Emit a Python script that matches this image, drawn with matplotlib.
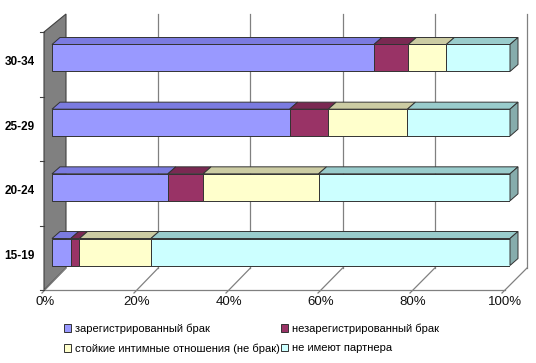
import matplotlib
matplotlib.use('Agg')
import matplotlib.pyplot as plt
from matplotlib.patches import Polygon, Patch

plt.rcParams['font.family'] = ['Liberation Sans', 'DejaVu Sans']

ages = ['15-19', '20-24', '25-29', '30-34']
registered = [4.1, 25.3, 51.9, 70.3]
unregistered = [1.9, 7.7, 8.4, 7.5]
stable = [15.6, 25.2, 17.3, 8.3]
no_partner = [78.4, 41.8, 22.4, 13.9]
series_names = ['зарегистрированный брак', 'незарегистрированный брак',
                'стойкие интимные отношения (не брак)', 'не имеют партнера']
ticks = [0, 20, 40, 60, 80, 100]
tick_labels = ['0%', '20%', '40%', '60%', '80%', '100%']

front_col = ['#9999ff', '#993366', '#ffffcc', '#ccffff']
top_col = ['#7b7be0', '#7a2952', '#cccca3', '#99cccc']

W, H = 536, 363
fig = plt.figure(figsize=(W / 100, H / 100), dpi=100)

# pixel layout of the front bar plane
X0, X100 = 52, 510
YC0, YSTEP = 252, 64.67
sx = (X100 - X0) / 100.0
bottom_px = YC0 + 0.5 * YSTEP
top_px = YC0 - 3.5 * YSTEP
ax = fig.add_axes([X0 / W, (H - bottom_px) / H, (X100 - X0) / W, (bottom_px - top_px) / H])
ax.set_xlim(0, 100)
ax.set_ylim(-0.5, 3.5)
ax.axis('off')

def dx(px):
    return px / sx

def yd(py):
    return (YC0 - py) / YSTEP

def xd(px):
    return (px - X0) / sx

# walls / floor
wall_top, wall_bot = 14, 268
floor_y = 290
back0, back100 = 66, 527
front0, front100 = 45, 505
ax.add_patch(Polygon([(xd(44), yd(32)), (xd(back0), yd(wall_top)), (xd(back0), yd(wall_bot)),
                      (xd(44), yd(floor_y))], closed=True, facecolor='#808080',
                     edgecolor='#404040', lw=0.8, clip_on=False, zorder=1))
for p in ticks:
    bx = xd(back0 + (back100 - back0) * p / 100)
    fx = xd(front0 + (front100 - front0) * p / 100)
    if p > 0:
        ax.plot([bx, bx], [yd(wall_top), yd(wall_bot)], color='#808080', lw=0.9, clip_on=False, zorder=1)
    ax.plot([bx, fx - dx(3)], [yd(wall_bot), yd(floor_y + 3)], color='#808080', lw=0.9, clip_on=False, zorder=1)
    ax.text(fx, yd(floor_y + 12), tick_labels[ticks.index(p)], ha='center', va='center', fontsize=9.5, color='#111111')
ax.plot([xd(front0), xd(front100)], [yd(floor_y), yd(floor_y)], color='#808080', lw=0.9, clip_on=False, zorder=1)
for k in range(5):
    ty = yd(floor_y - k * (floor_y - 32) / 4)
    ax.plot([xd(40), xd(44)], [ty, ty], color='#404040', lw=0.8, clip_on=False, zorder=1)

# bars
h = 27 / YSTEP
ddx, ddy = dx(8), 7 / YSTEP
data = [registered, unregistered, stable, no_partner]
for i, age in enumerate(ages):
    left = 0
    for j, vals in enumerate(data):
        w = vals[i]
        ax.barh(i, w, left=left, height=h, color=front_col[j], edgecolor='#333333', lw=0.7, zorder=3)
        yt = i + h / 2
        ax.add_patch(Polygon([(left, yt), (left + w, yt), (left + w + ddx, yt + ddy), (left + ddx, yt + ddy)],
                             closed=True, facecolor=top_col[j], edgecolor='#333333', lw=0.7, zorder=3,
                             clip_on=False))
        left += w
    ax.add_patch(Polygon([(left, i - h / 2), (left, i + h / 2), (left + ddx, i + h / 2 + ddy),
                          (left + ddx, i - h / 2 + ddy)], closed=True, facecolor='#86acac',
                         edgecolor='#333333', lw=0.7, zorder=3, clip_on=False))
    ax.text(xd(35), i - 4 / YSTEP, age, ha='right', va='center', fontsize=8.5, fontweight='bold')

handles = [Patch(facecolor=front_col[j], edgecolor='#333333', lw=0.7) for j in range(4)]
order = [0, 2, 1, 3]
fig.legend([handles[k] for k in order], [series_names[k] for k in order], ncol=2,
           loc='upper left', bbox_to_anchor=(58 / W, 1 - 318 / H), frameon=False,
           fontsize=8, handlelength=0.7, handleheight=0.7, handletextpad=0.3,
           columnspacing=0.1, labelspacing=0.85, borderpad=0)

fig.savefig('out.png', dpi=100)
